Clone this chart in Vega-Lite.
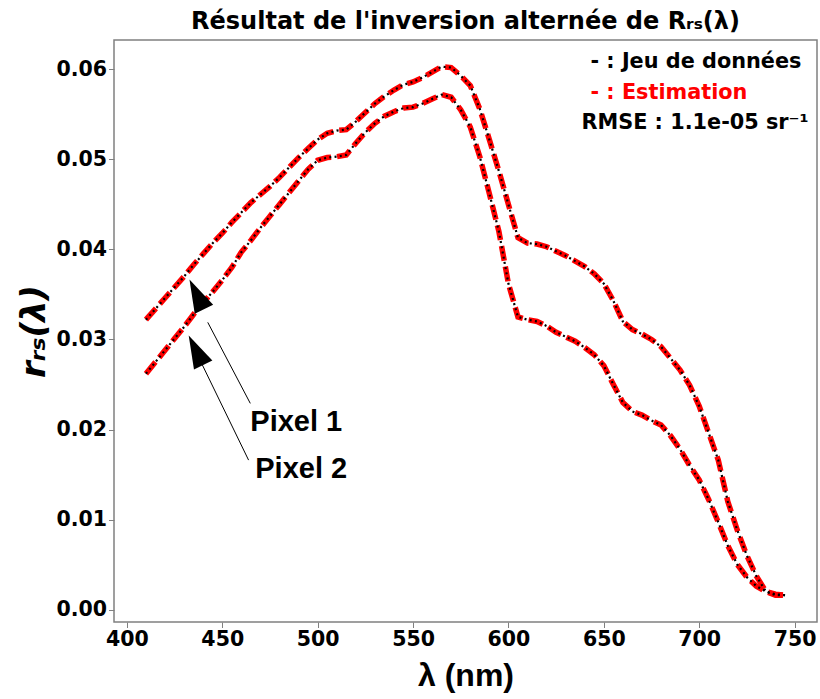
{
  "$schema": "https://vega.github.io/schema/vega-lite/v6.json",
  "autosize": "none",
  "width": 703,
  "height": 582,
  "padding": {"left": 114, "top": 40, "right": 3, "bottom": 77},
  "background": "white",
  "config": {
    "view": {"stroke": "#808080", "strokeWidth": 1.5},
    "axis": {
      "domain": false, "grid": false,
      "tickColor": "#808080", "tickSize": 5.5, "tickWidth": 1,
      "labelFont": "DejaVu Sans", "labelFontWeight": "bold", "labelFontSize": 20.5, "labelColor": "black",
      "titleColor": "black"
    }
  },
  "title": {
    "text": "Résultat de l'inversion alternée de Rᵣₛ(λ)",
    "font": "DejaVu Sans", "fontWeight": "bold", "fontSize": 24, "color": "black", "anchor": "middle", "offset": 6
  },
  "datasets": {
    "spectra": [
      {"lambda": 410, "pixel": "Pixel 1", "measured": 0.0322, "estimated": 0.0322},
      {"lambda": 415, "pixel": "Pixel 1", "measured": 0.0334, "estimated": 0.0334},
      {"lambda": 420, "pixel": "Pixel 1", "measured": 0.0346, "estimated": 0.0346},
      {"lambda": 425, "pixel": "Pixel 1", "measured": 0.0358, "estimated": 0.0358},
      {"lambda": 430, "pixel": "Pixel 1", "measured": 0.0370, "estimated": 0.0370},
      {"lambda": 435, "pixel": "Pixel 1", "measured": 0.0383, "estimated": 0.0383},
      {"lambda": 440, "pixel": "Pixel 1", "measured": 0.0395, "estimated": 0.0395},
      {"lambda": 445, "pixel": "Pixel 1", "measured": 0.0407, "estimated": 0.0407},
      {"lambda": 450, "pixel": "Pixel 1", "measured": 0.0418, "estimated": 0.0418},
      {"lambda": 455, "pixel": "Pixel 1", "measured": 0.0430, "estimated": 0.0430},
      {"lambda": 460, "pixel": "Pixel 1", "measured": 0.0441, "estimated": 0.0441},
      {"lambda": 465, "pixel": "Pixel 1", "measured": 0.0452, "estimated": 0.0452},
      {"lambda": 470, "pixel": "Pixel 1", "measured": 0.0461, "estimated": 0.0461},
      {"lambda": 475, "pixel": "Pixel 1", "measured": 0.0470, "estimated": 0.0470},
      {"lambda": 480, "pixel": "Pixel 1", "measured": 0.0480, "estimated": 0.0480},
      {"lambda": 485, "pixel": "Pixel 1", "measured": 0.0491, "estimated": 0.0491},
      {"lambda": 490, "pixel": "Pixel 1", "measured": 0.0502, "estimated": 0.0502},
      {"lambda": 495, "pixel": "Pixel 1", "measured": 0.0512, "estimated": 0.0512},
      {"lambda": 500, "pixel": "Pixel 1", "measured": 0.0522, "estimated": 0.0522},
      {"lambda": 505, "pixel": "Pixel 1", "measured": 0.0529, "estimated": 0.0529},
      {"lambda": 510, "pixel": "Pixel 1", "measured": 0.0532, "estimated": 0.0532},
      {"lambda": 515, "pixel": "Pixel 1", "measured": 0.0533, "estimated": 0.0533},
      {"lambda": 520, "pixel": "Pixel 1", "measured": 0.0542, "estimated": 0.0542},
      {"lambda": 525, "pixel": "Pixel 1", "measured": 0.0552, "estimated": 0.0552},
      {"lambda": 530, "pixel": "Pixel 1", "measured": 0.0562, "estimated": 0.0562},
      {"lambda": 535, "pixel": "Pixel 1", "measured": 0.0570, "estimated": 0.0570},
      {"lambda": 540, "pixel": "Pixel 1", "measured": 0.0577, "estimated": 0.0577},
      {"lambda": 545, "pixel": "Pixel 1", "measured": 0.0583, "estimated": 0.0583},
      {"lambda": 550, "pixel": "Pixel 1", "measured": 0.0586, "estimated": 0.0586},
      {"lambda": 555, "pixel": "Pixel 1", "measured": 0.0591, "estimated": 0.0591},
      {"lambda": 560, "pixel": "Pixel 1", "measured": 0.0597, "estimated": 0.0597},
      {"lambda": 565, "pixel": "Pixel 1", "measured": 0.0603, "estimated": 0.0603},
      {"lambda": 570, "pixel": "Pixel 1", "measured": 0.0602, "estimated": 0.0602},
      {"lambda": 575, "pixel": "Pixel 1", "measured": 0.0593, "estimated": 0.0593},
      {"lambda": 580, "pixel": "Pixel 1", "measured": 0.0582, "estimated": 0.0582},
      {"lambda": 585, "pixel": "Pixel 1", "measured": 0.0556, "estimated": 0.0556},
      {"lambda": 590, "pixel": "Pixel 1", "measured": 0.0522, "estimated": 0.0522},
      {"lambda": 595, "pixel": "Pixel 1", "measured": 0.0487, "estimated": 0.0487},
      {"lambda": 600, "pixel": "Pixel 1", "measured": 0.0450, "estimated": 0.0450},
      {"lambda": 605, "pixel": "Pixel 1", "measured": 0.0413, "estimated": 0.0413},
      {"lambda": 610, "pixel": "Pixel 1", "measured": 0.0407, "estimated": 0.0407},
      {"lambda": 615, "pixel": "Pixel 1", "measured": 0.0406, "estimated": 0.0406},
      {"lambda": 620, "pixel": "Pixel 1", "measured": 0.0403, "estimated": 0.0403},
      {"lambda": 625, "pixel": "Pixel 1", "measured": 0.0398, "estimated": 0.0398},
      {"lambda": 630, "pixel": "Pixel 1", "measured": 0.0393, "estimated": 0.0393},
      {"lambda": 635, "pixel": "Pixel 1", "measured": 0.0387, "estimated": 0.0387},
      {"lambda": 640, "pixel": "Pixel 1", "measured": 0.0381, "estimated": 0.0381},
      {"lambda": 645, "pixel": "Pixel 1", "measured": 0.0373, "estimated": 0.0373},
      {"lambda": 650, "pixel": "Pixel 1", "measured": 0.0362, "estimated": 0.0362},
      {"lambda": 655, "pixel": "Pixel 1", "measured": 0.0343, "estimated": 0.0343},
      {"lambda": 660, "pixel": "Pixel 1", "measured": 0.0320, "estimated": 0.0320},
      {"lambda": 665, "pixel": "Pixel 1", "measured": 0.0311, "estimated": 0.0311},
      {"lambda": 670, "pixel": "Pixel 1", "measured": 0.0306, "estimated": 0.0306},
      {"lambda": 675, "pixel": "Pixel 1", "measured": 0.0300, "estimated": 0.0300},
      {"lambda": 680, "pixel": "Pixel 1", "measured": 0.0292, "estimated": 0.0292},
      {"lambda": 685, "pixel": "Pixel 1", "measured": 0.0279, "estimated": 0.0279},
      {"lambda": 690, "pixel": "Pixel 1", "measured": 0.0266, "estimated": 0.0266},
      {"lambda": 695, "pixel": "Pixel 1", "measured": 0.0249, "estimated": 0.0249},
      {"lambda": 700, "pixel": "Pixel 1", "measured": 0.0226, "estimated": 0.0226},
      {"lambda": 705, "pixel": "Pixel 1", "measured": 0.0196, "estimated": 0.0196},
      {"lambda": 710, "pixel": "Pixel 1", "measured": 0.0166, "estimated": 0.0166},
      {"lambda": 715, "pixel": "Pixel 1", "measured": 0.0120, "estimated": 0.0120},
      {"lambda": 720, "pixel": "Pixel 1", "measured": 0.0088, "estimated": 0.0088},
      {"lambda": 725, "pixel": "Pixel 1", "measured": 0.0060, "estimated": 0.0060},
      {"lambda": 730, "pixel": "Pixel 1", "measured": 0.0037, "estimated": 0.0037},
      {"lambda": 735, "pixel": "Pixel 1", "measured": 0.0020, "estimated": 0.0020},
      {"lambda": 740, "pixel": "Pixel 1", "measured": 0.0016, "estimated": 0.0016},
      {"lambda": 745, "pixel": "Pixel 1", "measured": 0.0016, "estimated": 0.0016},
      {"lambda": 410, "pixel": "Pixel 2", "measured": 0.0262, "estimated": 0.0262},
      {"lambda": 415, "pixel": "Pixel 2", "measured": 0.0275, "estimated": 0.0275},
      {"lambda": 420, "pixel": "Pixel 2", "measured": 0.0288, "estimated": 0.0288},
      {"lambda": 425, "pixel": "Pixel 2", "measured": 0.0301, "estimated": 0.0301},
      {"lambda": 430, "pixel": "Pixel 2", "measured": 0.0314, "estimated": 0.0314},
      {"lambda": 435, "pixel": "Pixel 2", "measured": 0.0328, "estimated": 0.0328},
      {"lambda": 440, "pixel": "Pixel 2", "measured": 0.0341, "estimated": 0.0341},
      {"lambda": 445, "pixel": "Pixel 2", "measured": 0.0353, "estimated": 0.0353},
      {"lambda": 450, "pixel": "Pixel 2", "measured": 0.0366, "estimated": 0.0366},
      {"lambda": 455, "pixel": "Pixel 2", "measured": 0.0380, "estimated": 0.0380},
      {"lambda": 460, "pixel": "Pixel 2", "measured": 0.0397, "estimated": 0.0397},
      {"lambda": 465, "pixel": "Pixel 2", "measured": 0.0410, "estimated": 0.0410},
      {"lambda": 470, "pixel": "Pixel 2", "measured": 0.0424, "estimated": 0.0424},
      {"lambda": 475, "pixel": "Pixel 2", "measured": 0.0437, "estimated": 0.0437},
      {"lambda": 480, "pixel": "Pixel 2", "measured": 0.0450, "estimated": 0.0450},
      {"lambda": 485, "pixel": "Pixel 2", "measured": 0.0463, "estimated": 0.0463},
      {"lambda": 490, "pixel": "Pixel 2", "measured": 0.0476, "estimated": 0.0476},
      {"lambda": 495, "pixel": "Pixel 2", "measured": 0.0489, "estimated": 0.0489},
      {"lambda": 500, "pixel": "Pixel 2", "measured": 0.0499, "estimated": 0.0499},
      {"lambda": 505, "pixel": "Pixel 2", "measured": 0.0502, "estimated": 0.0502},
      {"lambda": 510, "pixel": "Pixel 2", "measured": 0.0503, "estimated": 0.0503},
      {"lambda": 515, "pixel": "Pixel 2", "measured": 0.0505, "estimated": 0.0505},
      {"lambda": 520, "pixel": "Pixel 2", "measured": 0.0518, "estimated": 0.0518},
      {"lambda": 525, "pixel": "Pixel 2", "measured": 0.0530, "estimated": 0.0530},
      {"lambda": 530, "pixel": "Pixel 2", "measured": 0.0540, "estimated": 0.0540},
      {"lambda": 535, "pixel": "Pixel 2", "measured": 0.0548, "estimated": 0.0548},
      {"lambda": 540, "pixel": "Pixel 2", "measured": 0.0553, "estimated": 0.0553},
      {"lambda": 545, "pixel": "Pixel 2", "measured": 0.0557, "estimated": 0.0557},
      {"lambda": 550, "pixel": "Pixel 2", "measured": 0.0558, "estimated": 0.0558},
      {"lambda": 555, "pixel": "Pixel 2", "measured": 0.0562, "estimated": 0.0562},
      {"lambda": 560, "pixel": "Pixel 2", "measured": 0.0567, "estimated": 0.0567},
      {"lambda": 565, "pixel": "Pixel 2", "measured": 0.0572, "estimated": 0.0572},
      {"lambda": 570, "pixel": "Pixel 2", "measured": 0.0569, "estimated": 0.0569},
      {"lambda": 575, "pixel": "Pixel 2", "measured": 0.0555, "estimated": 0.0555},
      {"lambda": 580, "pixel": "Pixel 2", "measured": 0.0536, "estimated": 0.0536},
      {"lambda": 585, "pixel": "Pixel 2", "measured": 0.0503, "estimated": 0.0503},
      {"lambda": 590, "pixel": "Pixel 2", "measured": 0.0462, "estimated": 0.0462},
      {"lambda": 595, "pixel": "Pixel 2", "measured": 0.0420, "estimated": 0.0420},
      {"lambda": 600, "pixel": "Pixel 2", "measured": 0.0362, "estimated": 0.0362},
      {"lambda": 605, "pixel": "Pixel 2", "measured": 0.0325, "estimated": 0.0325},
      {"lambda": 610, "pixel": "Pixel 2", "measured": 0.0322, "estimated": 0.0322},
      {"lambda": 615, "pixel": "Pixel 2", "measured": 0.0320, "estimated": 0.0320},
      {"lambda": 620, "pixel": "Pixel 2", "measured": 0.0315, "estimated": 0.0315},
      {"lambda": 625, "pixel": "Pixel 2", "measured": 0.0308, "estimated": 0.0308},
      {"lambda": 630, "pixel": "Pixel 2", "measured": 0.0303, "estimated": 0.0303},
      {"lambda": 635, "pixel": "Pixel 2", "measured": 0.0298, "estimated": 0.0298},
      {"lambda": 640, "pixel": "Pixel 2", "measured": 0.0291, "estimated": 0.0291},
      {"lambda": 645, "pixel": "Pixel 2", "measured": 0.0283, "estimated": 0.0283},
      {"lambda": 650, "pixel": "Pixel 2", "measured": 0.0271, "estimated": 0.0271},
      {"lambda": 655, "pixel": "Pixel 2", "measured": 0.0250, "estimated": 0.0250},
      {"lambda": 660, "pixel": "Pixel 2", "measured": 0.0230, "estimated": 0.0230},
      {"lambda": 665, "pixel": "Pixel 2", "measured": 0.0220, "estimated": 0.0220},
      {"lambda": 670, "pixel": "Pixel 2", "measured": 0.0216, "estimated": 0.0216},
      {"lambda": 675, "pixel": "Pixel 2", "measured": 0.0210, "estimated": 0.0210},
      {"lambda": 680, "pixel": "Pixel 2", "measured": 0.0205, "estimated": 0.0205},
      {"lambda": 685, "pixel": "Pixel 2", "measured": 0.0193, "estimated": 0.0193},
      {"lambda": 690, "pixel": "Pixel 2", "measured": 0.0178, "estimated": 0.0178},
      {"lambda": 695, "pixel": "Pixel 2", "measured": 0.0160, "estimated": 0.0160},
      {"lambda": 700, "pixel": "Pixel 2", "measured": 0.0144, "estimated": 0.0144},
      {"lambda": 705, "pixel": "Pixel 2", "measured": 0.0122, "estimated": 0.0122},
      {"lambda": 710, "pixel": "Pixel 2", "measured": 0.0097, "estimated": 0.0097},
      {"lambda": 715, "pixel": "Pixel 2", "measured": 0.0071, "estimated": 0.0071},
      {"lambda": 720, "pixel": "Pixel 2", "measured": 0.0050, "estimated": 0.0050},
      {"lambda": 725, "pixel": "Pixel 2", "measured": 0.0036, "estimated": 0.0036},
      {"lambda": 730, "pixel": "Pixel 2", "measured": 0.0026, "estimated": 0.0026},
      {"lambda": 735, "pixel": "Pixel 2", "measured": 0.0020, "estimated": 0.0020},
      {"lambda": 740, "pixel": "Pixel 2", "measured": 0.0017, "estimated": 0.0017},
      {"lambda": 745, "pixel": "Pixel 2", "measured": 0.0016, "estimated": 0.0016}
    ],
    "arrows": [
      {"label": "Pixel 1", "tx": 464.7, "ty": 0.0229, "bx": 442.4, "by": 0.0319, "hx": 436.6, "hy": 0.0350, "lx": 464.7, "ly": 0.0208},
      {"label": "Pixel 2", "tx": 463.8, "ty": 0.0166, "bx": 439.5, "by": 0.0272, "hx": 436.2, "hy": 0.0288, "lx": 467.3, "ly": 0.0156}
    ],
    "legendtext": [
      {"text": "- : Jeu de données", "x": 643.0, "y": 0.0608, "kind": "data"},
      {"text": "- : Estimation", "x": 643.0, "y": 0.0574, "kind": "est"},
      {"text": "RMSE : 1.1e-05 sr⁻¹", "x": 638.3, "y": 0.0540, "kind": "rmse"}
    ]
  },
  "layer": [
    {
      "data": {"name": "spectra"},
      "mark": {"type": "line", "color": "#ff0000", "strokeWidth": 5.5, "strokeDash": [15, 6], "strokeCap": "butt"},
      "encoding": {
        "x": {"field": "lambda", "type": "quantitative",
              "scale": {"domain": [393.25, 761.75], "nice": false, "zero": false},
              "axis": {"values": [400, 450, 500, 550, 600, 650, 700, 750], "labelPadding": 2,
                       "title": "λ (nm)", "titleFont": "Liberation Sans", "titleFontWeight": "bold", "titleFontSize": 32, "titlePadding": 10}},
        "y": {"field": "estimated", "type": "quantitative",
              "scale": {"domain": [-0.00138, 0.06326], "nice": false, "zero": false},
              "axis": {"values": [0, 0.01, 0.02, 0.03, 0.04, 0.05, 0.06], "format": ".2f", "labelPadding": 2,
                       "title": "rᵣₛ(λ)", "titleFont": "DejaVu Sans", "titleFontWeight": "bold", "titleFontStyle": "italic", "titleFontSize": 34, "titlePadding": 4}},
        "detail": {"field": "pixel"}
      }
    },
    {
      "data": {"name": "spectra"},
      "mark": {"type": "line", "color": "black", "strokeWidth": 2.2, "strokeDash": [2, 3.3], "strokeCap": "butt"},
      "encoding": {
        "x": {"field": "lambda", "type": "quantitative"},
        "y": {"field": "measured", "type": "quantitative"},
        "detail": {"field": "pixel"}
      }
    },
    {
      "data": {"name": "arrows"},
      "mark": {"type": "rule", "color": "black", "strokeWidth": 1},
      "encoding": {
        "x": {"field": "tx", "type": "quantitative"},
        "y": {"field": "ty", "type": "quantitative"},
        "x2": {"field": "bx"},
        "y2": {"field": "by"}
      }
    },
    {
      "data": {"name": "arrows"},
      "mark": {"type": "point", "shape": "M0,-1L0.62,1L-0.62,1Z", "filled": true, "color": "black", "opacity": 1, "size": 1089, "angle": 334, "strokeWidth": 0},
      "encoding": {
        "x": {"field": "hx", "type": "quantitative"},
        "y": {"field": "hy", "type": "quantitative"}
      }
    },
    {
      "data": {"name": "arrows"},
      "mark": {"type": "text", "align": "left", "baseline": "middle", "font": "Liberation Sans", "fontWeight": "bold", "fontSize": 29, "color": "black"},
      "encoding": {
        "x": {"field": "lx", "type": "quantitative"},
        "y": {"field": "ly", "type": "quantitative"},
        "text": {"field": "label"}
      }
    },
    {
      "data": {"name": "legendtext"},
      "mark": {"type": "text", "align": "left", "baseline": "middle", "font": "DejaVu Sans", "fontWeight": "bold", "fontSize": 20.8},
      "encoding": {
        "x": {"field": "x", "type": "quantitative"},
        "y": {"field": "y", "type": "quantitative"},
        "text": {"field": "text"},
        "color": {"field": "kind", "type": "nominal", "scale": {"domain": ["data", "est", "rmse"], "range": ["black", "#ff0000", "black"]}, "legend": null}
      }
    }
  ]
}
